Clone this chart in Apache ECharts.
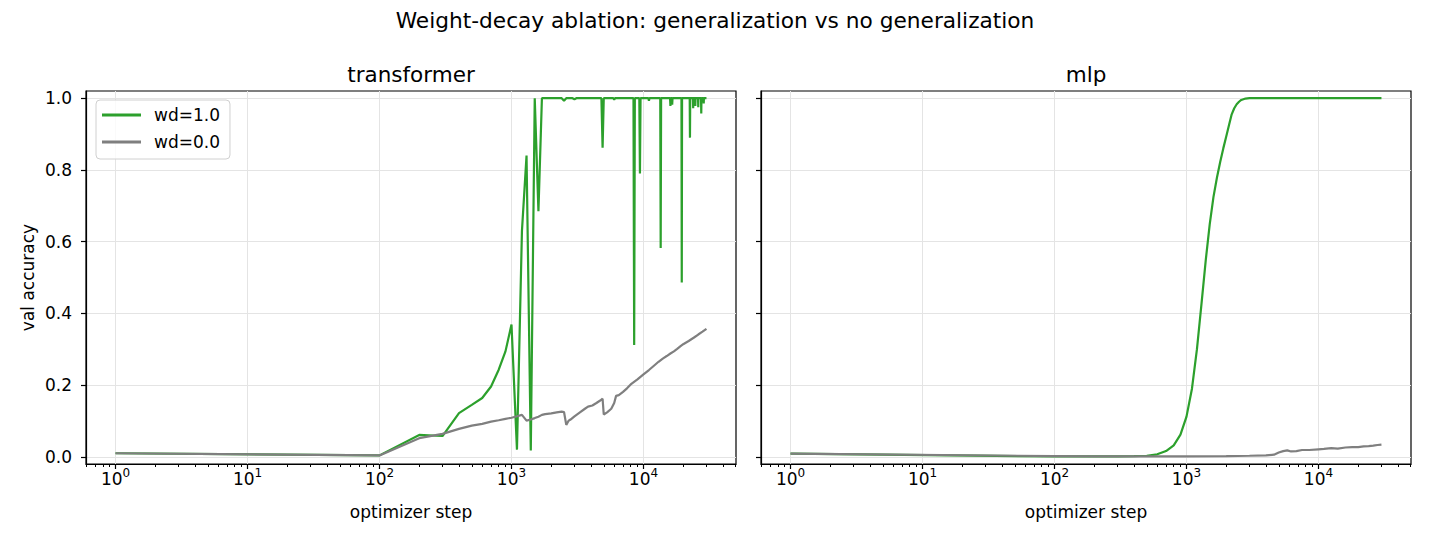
<!DOCTYPE html>
<html>
<head>
<meta charset="utf-8">
<script src="https://cdn.jsdelivr.net/npm/echarts@6/dist/echarts.min.js"></script>
<style>
  html, body { margin: 0; padding: 0; background: #fff; }
  #chart { width: 1430px; height: 546px; }
</style>
</head>
<body>
<div id="chart"></div>
<script>
// transformer, wd=1.0
var tfStepsWd1 = [1, 100, 200, 300, 400, 500, 600, 700, 800, 900,
  1000, 1100, 1200, 1300, 1400, 1500, 1600, 1700, 2400, 2500,
  2600, 2900, 3000, 3100, 4800, 4900, 5000, 5900, 6000, 6100,
  8400, 8500, 8600, 9300, 9400, 9500, 10900, 11000, 11100, 13400,
  13500, 13600, 15900, 16000, 16100, 16400, 16500, 16600, 19400, 19500,
  19600, 22400, 22500, 22600, 23700, 23800, 23900, 24600, 24700, 24800,
  25900, 26000, 26100, 27300, 27400, 27500, 28500, 28600, 28700, 30000];
var tfAccWd1 = [0.010, 0.004, 0.061, 0.058, 0.122, 0.145, 0.164, 0.196, 0.243, 0.294,
  0.369, 0.020, 0.630, 0.840, 0.018, 1.000, 0.685, 1.000, 1.000, 0.993,
  1.000, 1.000, 0.997, 1.000, 1.000, 0.862, 1.000, 1.000, 0.996, 1.000,
  1.000, 0.312, 1.000, 1.000, 0.790, 1.000, 1.000, 0.993, 1.000, 1.000,
  0.582, 1.000, 1.000, 0.978, 1.000, 1.000, 0.982, 1.000, 1.000, 0.486,
  1.000, 1.000, 0.890, 1.000, 1.000, 0.972, 1.000, 1.000, 0.978, 1.000,
  1.000, 0.975, 1.000, 1.000, 0.957, 1.000, 1.000, 0.985, 1.000, 1.000];

// transformer, wd=0.0
var tfStepsWd0 = [1, 100, 200, 300, 400, 500, 600, 700, 800, 900,
  1000, 1100, 1200, 1300, 1400, 1500, 1600, 1700, 1800, 2000,
  2200, 2400, 2500, 2600, 2700, 2800, 3000, 3300, 3600, 3800,
  4100, 4400, 4700, 4900, 5000, 5300, 5700, 6000, 6200, 6500,
  7000, 7500, 8000, 9000, 10000, 11000, 12000, 13000, 14000, 15000,
  16000, 17000, 18000, 19000, 20000, 22000, 24000, 26000, 28000, 30000];
var tfAccWd0 = [0.010, 0.004, 0.052, 0.064, 0.078, 0.087, 0.092, 0.098, 0.102, 0.106,
  0.109, 0.113, 0.117, 0.101, 0.104, 0.108, 0.112, 0.117, 0.119, 0.121,
  0.124, 0.126, 0.125, 0.089, 0.100, 0.104, 0.113, 0.124, 0.134, 0.140,
  0.143, 0.150, 0.157, 0.162, 0.118, 0.124, 0.134, 0.150, 0.170, 0.172,
  0.181, 0.191, 0.202, 0.216, 0.230, 0.242, 0.254, 0.265, 0.274, 0.281,
  0.288, 0.294, 0.301, 0.308, 0.314, 0.323, 0.332, 0.341, 0.349, 0.357];

// mlp, wd=1.0
var mlpStepsWd1 = [1, 100, 200, 300, 400, 500, 600, 700, 800, 900,
  1000, 1100, 1200, 1300, 1400, 1500, 1600, 1700, 1800, 1900,
  2000, 2100, 2200, 2300, 2400, 2500, 2600, 2800, 3000, 30000];
var mlpAccWd1 = [0.009, 0.001, 0.001, 0.001, 0.002, 0.003, 0.007, 0.016, 0.032, 0.062,
  0.112, 0.190, 0.300, 0.428, 0.549, 0.649, 0.724, 0.778, 0.822, 0.860,
  0.893, 0.925, 0.955, 0.972, 0.983, 0.990, 0.995, 0.999, 1.000, 1.000];

// mlp, wd=0.0
var mlpStepsWd0 = [1, 100, 200, 500, 1000, 2000, 3000, 4000, 4600, 5000,
  5400, 5800, 6200, 6800, 7500, 8500, 10000, 11000, 12500, 14000,
  16000, 18000, 20000, 22000, 24000, 26000, 28000, 30000];
var mlpAccWd0 = [0.009, 0.002, 0.001, 0.001, 0.001, 0.002, 0.003, 0.004, 0.006, 0.012,
  0.016, 0.018, 0.015, 0.016, 0.019, 0.019, 0.021, 0.022, 0.024, 0.023,
  0.026, 0.027, 0.027, 0.029, 0.030, 0.031, 0.033, 0.034];

var panelTitles = ['transformer', 'mlp'];
var seriesNames = ['wd=1.0', 'wd=0.0'];
var yTicks = [0, 0.2, 0.4, 0.6, 0.8, 1.0];
var xTicks = [1, 10, 100, 1000, 10000];

var FONT = 'DejaVu Sans';
var GREEN = '#2ca02c', GRAY = '#7f7f7f';

function pairs(xs, ys) {
  return xs.map(function(x, i) { return [x, ys[i]]; });
}

// x range: data 1..30000 with 5% log margin
var xMin = Math.pow(10, -0.05 * Math.log10(30000));
var xMax = Math.pow(10, 1.05 * Math.log10(30000));

// minor ticks 2..9 x 10^k inside range
var minorTicks = [];
for (var k = -1; k <= 4; k++) {
  for (var m = 2; m <= 9; m++) {
    var v = m * Math.pow(10, k);
    if (v > xMin && v < xMax) minorTicks.push(v);
  }
}

var gridLeft = [86, 761];

var grids = [], xAxes = [], yAxes = [], series = [], titles = [];

titles.push({
  text: 'Weight-decay ablation: generalization vs no generalization',
  left: 715, top: 9, textAlign: 'center', padding: 0,
  textStyle: { fontFamily: FONT, fontSize: 21.7, fontWeight: 'normal', color: '#000' }
});

gridLeft.forEach(function(left, i) {
  grids.push({
    left: left, top: 91, width: 650, height: 373,
    show: true, borderColor: '#000', borderWidth: 1.2, backgroundColor: 'transparent'
  });
  titles.push({
    text: panelTitles[i],
    left: left + 325, top: 63, textAlign: 'center', padding: 0,
    textStyle: { fontFamily: FONT, fontSize: 21.5, fontWeight: 'normal', color: '#000' }
  });
  // main log axis
  xAxes.push({
    type: 'log', logBase: 10, gridIndex: i, position: 'bottom',
    min: xMin, max: xMax,
    name: 'optimizer step', nameLocation: 'middle', nameGap: 39,
    nameTextStyle: { fontFamily: FONT, fontSize: 17, color: '#000' },
    axisLine: { show: true, onZero: false, lineStyle: { color: '#000', width: 1.2 } },
    axisTick: { show: true, length: 5, lineStyle: { color: '#000', width: 1.2 }, customValues: xTicks },
    axisLabel: {
      customValues: xTicks,
      margin: 3,
      color: '#000', fontFamily: FONT,
      formatter: function(val) {
        var e = Math.round(Math.log10(val));
        return '{b|10}{s|' + e + '}';
      },
      rich: {
        b: { fontFamily: FONT, fontSize: 17, color: '#000', lineHeight: 20, verticalAlign: 'bottom' },
        s: { fontFamily: FONT, fontSize: 12, color: '#000', lineHeight: 20, verticalAlign: 'top' }
      }
    },
    splitLine: { show: true, lineStyle: { color: '#e4e4e4', width: 1 } }
  });
  yAxes.push({
    type: 'value', gridIndex: i,
    min: -0.02, max: 1.02,
    name: i === 0 ? 'val accuracy' : '', nameLocation: 'middle', nameGap: 50, nameRotate: 90,
    nameTextStyle: { fontFamily: FONT, fontSize: 17, color: '#000' },
    axisLine: { show: true, onZero: false, lineStyle: { color: '#000', width: 1.2 } },
    axisTick: { show: true, length: 5, lineStyle: { color: '#000', width: 1.2 }, customValues: yTicks },
    axisLabel: {
      show: i === 0, customValues: yTicks, margin: 14,
      fontFamily: FONT, fontSize: 17, color: '#000',
      formatter: function(val) { return val.toFixed(1); }
    },
    splitLine: { show: true, lineStyle: { color: '#e4e4e4', width: 1 } }
  });
});

// minor tick axes (no labels, no lines)
gridLeft.forEach(function(left, i) {
  xAxes.push({
    type: 'log', logBase: 10, gridIndex: i, position: 'bottom',
    min: xMin, max: xMax,
    axisLine: { show: false, onZero: false },
    axisTick: { show: true, length: 3, lineStyle: { color: '#000', width: 1 }, customValues: minorTicks },
    axisLabel: { show: false },
    splitLine: { show: false }
  });
});

var panelData = [
  [pairs(tfStepsWd1, tfAccWd1), pairs(tfStepsWd0, tfAccWd0)],
  [pairs(mlpStepsWd1, mlpAccWd1), pairs(mlpStepsWd0, mlpAccWd0)]
];
var colors = [GREEN, GRAY];

panelData.forEach(function(sets, i) {
  sets.forEach(function(d, j) {
    series.push({
      name: seriesNames[j], type: 'line',
      xAxisIndex: i, yAxisIndex: i,
      data: d, showSymbol: false, symbol: 'none',
      clip: true,
      lineStyle: { color: colors[j], width: 2.2 },
      itemStyle: { color: colors[j] },
      z: 2 + j
    });
  });
});

var chart = echarts.init(document.getElementById('chart'), null, { renderer: 'svg' });
chart.setOption({
  animation: false,
  backgroundColor: '#fff',
  textStyle: { fontFamily: FONT },
  title: titles,
  legend: {
    data: seriesNames,
    orient: 'vertical',
    left: 96, top: 100,
    padding: [5, 10, 7, 6],
    itemGap: 7,
    itemWidth: 39, itemHeight: 3,
    icon: 'rect',
    backgroundColor: 'rgba(255,255,255,0.8)',
    borderColor: '#d0d0d0', borderWidth: 1, borderRadius: 4,
    textStyle: { fontFamily: FONT, fontSize: 17, color: '#000', lineHeight: 20, padding: [0, 0, 0, 8] }
  },
  grid: grids,
  xAxis: xAxes,
  yAxis: yAxes,
  series: series
});
</script>
</body>
</html>
